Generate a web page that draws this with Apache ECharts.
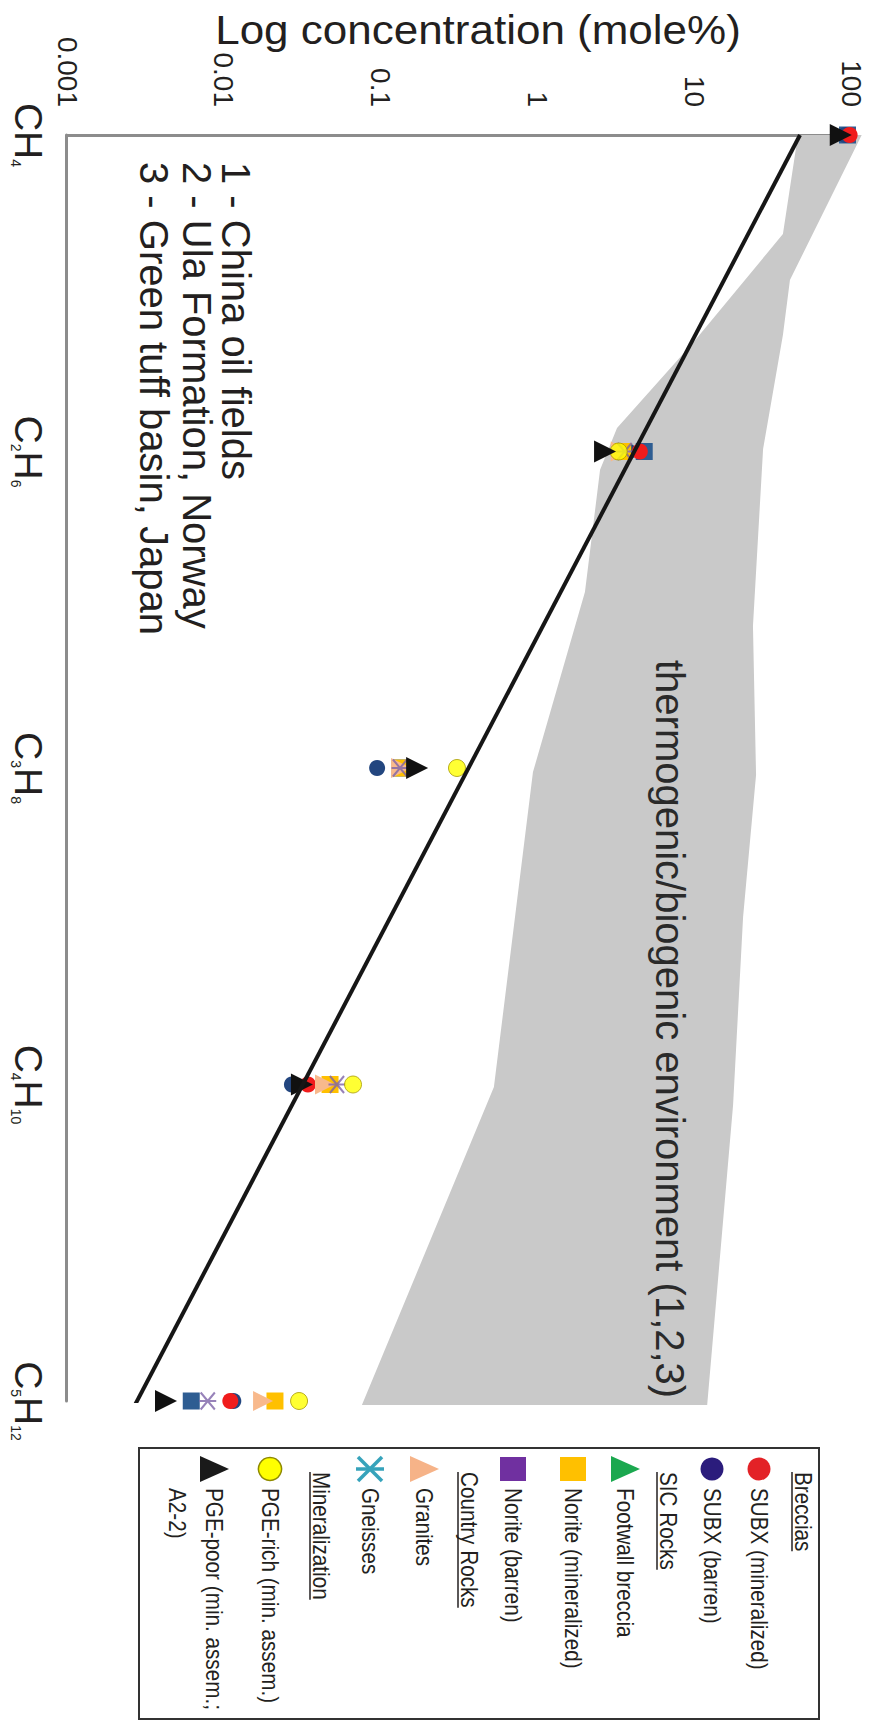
<!DOCTYPE html>
<html><head><meta charset="utf-8">
<script src="https://cdn.jsdelivr.net/npm/echarts@6/dist/echarts.min.js"></script>
<style>
html,body{margin:0;padding:0;width:882px;height:1722px;overflow:hidden;background:#fff;}
#rot{position:absolute;left:0;top:0;width:1722px;height:882px;transform-origin:0 0;transform:translate(882px,0) rotate(90deg);}
#chart{width:1722px;height:882px;}
</style></head><body>
<div id="rot"><div id="chart"></div></div>
<script>
// ---------- data ----------
const categories = ['CH4', 'C2H6', 'C3H8', 'C4H10', 'C5H12'];
const yTickLabels = ['0.001', '0.01', '0.1', '1', '10', '100'];
const yAxisTitle = 'Log concentration (mole%)';
const bandLabel = 'thermogenic/biogenic environment (1,2,3)';
const sourceNotes = ['1 - China oil fields', '2 - Ula Formation, Norway', '3 - Green tuff basin, Japan'];

// [category position, mole%]
const bandLower = [[0, 45.9], [0.313, 36.8], [0.657, 9.8], [0.926, 3.22], [1.058, 2.51], [1.444, 2.01], [2.013, 0.937], [3.008, 0.528], [4.013, 0.076]];
const bandUpper = [[0, 117], [0.458, 40.8], [0.632, 36.8], [0.992, 27.5], [1.551, 23.7], [2.022, 24.8], [2.471, 20.5], [3.065, 17.7], [4.013, 12.1]];
const trendLine = [[0, 47.3], [4.03, 0.0026]];

const noriteBarren = [[0, 95], [1, 4.8], [2, 0.133], [4, 0.0062]];
const subxBarren = [[0, 92], [1, 3.8], [2, 0.095], [3, 0.0272], [4, 0.0115]];
const subxMineralized = [[0, 98], [1, 4.5], [2, 0.14], [3, 0.0344], [4, 0.011]];
const noriteMineralized = [[1, 3.5], [2, 0.137], [3, 0.0476], [4, 0.0212]];
const granites = [[1, 3.4], [2, 0.135], [3, 0.0442], [4, 0.0178]];
const gneisses = [[1, 3.6], [2, 0.133], [3, 0.0527], [4, 0.0079]];
const pgeRich = [[1, 3.3], [2, 0.307], [3, 0.0667], [4, 0.0302]];
const pgePoor = [[0, 86], [1, 2.7], [2, 0.171], [3, 0.0315], [4, 0.00428]];

const legendRows = [
  { kind: 'header', text: 'Breccias' },
  { kind: 'item', text: 'SUBX (mineralized)', symbol: 'circle', color: '#e32227' },
  { kind: 'item', text: 'SUBX (barren)', symbol: 'circle', color: '#2b1c7c' },
  { kind: 'header', text: 'SIC Rocks' },
  { kind: 'item', text: 'Footwall breccia', symbol: 'triangle', color: '#1ba84f' },
  { kind: 'item', text: 'Norite (mineralized)', symbol: 'rect', color: '#ffc000' },
  { kind: 'item', text: 'Norite (barren)', symbol: 'rect', color: '#7030a0' },
  { kind: 'header', text: 'Country Rocks' },
  { kind: 'item', text: 'Granites', symbol: 'triangle', color: '#f6b388' },
  { kind: 'item', text: 'Gneisses', symbol: 'star', color: '#36a3bb' },
  { kind: 'header', text: 'Mineralization' },
  { kind: 'item', text: 'PGE-rich (min. assem.)', symbol: 'circle', color: '#ffff00', stroke: '#8f8a00' },
  { kind: 'item', text: 'PGE-poor (min. assem.;', symbol: 'triangle', color: '#1a1a1a' },
  { kind: 'text', text: 'A2-2)' }
];

// ---------- layout ----------
const FONT = '"Liberation Sans", Arial, Helvetica, sans-serif';
const TXT = '#231f20';
const legendRowY = [79, 123, 170, 214, 257, 309, 369, 413, 458, 512, 561, 612, 668, 705];
const LEG = { x: 1448, y: 63, w: 271, h: 680, symX: 1469, textX: 1488, headX: 1472, font: 23, sx: 0.9 };

const measureCtx = document.createElement('canvas').getContext('2d');
function textWidth(t, size) { measureCtx.font = size + 'px ' + FONT; return measureCtx.measureText(t).width; }

const graphics = [];
// axis title (rotated so it reads along the value axis)
graphics.push({ type: 'text', x: 30, y: 404, rotation: Math.PI / 2, scaleX: 1.1, style: { text: yAxisTitle, fontSize: 40, fontFamily: FONT, fill: TXT, align: 'center', verticalAlign: 'middle', textAlign: 'center', textVerticalAlign: 'middle' }, z: 10 });

graphics.push({ type: 'rect', shape: { x: LEG.x, y: LEG.y, width: LEG.w, height: LEG.h }, style: { fill: 'none', stroke: '#333', lineWidth: 2 }, z: 10 });
function legText(t, x, y) {
  return { type: 'text', x: x, y: y, scaleX: LEG.sx, style: { text: t, fontSize: LEG.font, fontFamily: FONT, fill: TXT, align: 'left', verticalAlign: 'middle', textAlign: 'left', textVerticalAlign: 'middle' }, z: 10 };
}
legendRows.forEach((r, i) => {
  const cy = legendRowY[i];
  if (r.kind === 'header') {
    graphics.push(legText(r.text, LEG.headX, cy));
    const w = textWidth(r.text, LEG.font) * LEG.sx;
    graphics.push({ type: 'line', shape: { x1: LEG.headX, y1: cy + 11, x2: LEG.headX + w, y2: cy + 11 }, style: { stroke: TXT, lineWidth: 1.5 }, z: 10 });
    return;
  }
  graphics.push(legText(r.text, LEG.textX, cy));
  if (r.kind !== 'item') return;
  const sx = LEG.symX;
  if (r.symbol === 'circle') {
    graphics.push({ type: 'circle', shape: { cx: sx, cy: cy, r: 11.5 }, style: { fill: r.color, stroke: r.stroke || null, lineWidth: r.stroke ? 1.5 : 0 }, z: 10 });
  } else if (r.symbol === 'rect') {
    graphics.push({ type: 'rect', shape: { x: sx - 12, y: cy - 13, width: 24, height: 26 }, style: { fill: r.color }, z: 10 });
  } else if (r.symbol === 'triangle') {
    graphics.push({ type: 'polygon', shape: { points: [[sx, cy - 15], [sx - 13, cy + 14], [sx + 13, cy + 14]] }, style: { fill: r.color }, z: 10 });
  } else if (r.symbol === 'star') {
    const s = 12;
    graphics.push({ type: 'polyline', shape: { points: [[sx - s, cy - s], [sx + s, cy + s]] }, style: { stroke: r.color, lineWidth: 3.5 }, z: 10 });
    graphics.push({ type: 'polyline', shape: { points: [[sx + s, cy - s], [sx - s, cy + s]] }, style: { stroke: r.color, lineWidth: 3.5 }, z: 10 });
    graphics.push({ type: 'polyline', shape: { points: [[sx, cy - s - 2], [sx, cy + s + 2]] }, style: { stroke: r.color, lineWidth: 3.5 }, z: 10 });
  }
});
// notes
const notesY = [646, 685, 728];
sourceNotes.forEach((t, i) => {
  graphics.push({ type: 'text', x: 162, y: notesY[i], style: { text: t, fontSize: 40, fontFamily: FONT, fill: TXT, align: 'left', verticalAlign: 'middle', textAlign: 'left', textVerticalAlign: 'middle' }, z: 10 });
});
graphics.push({ type: 'text', x: 660, y: 212, style: { text: bandLabel, fontSize: 40, fontFamily: FONT, fill: '#2a2a2a', align: 'left', verticalAlign: 'middle', textAlign: 'left', textVerticalAlign: 'middle' }, z: 10 });

function catLabel(v) {
  const name = categories[Math.round(v)];
  if (name === undefined) return '';
  let out = '';
  name.replace(/([A-Z])(\d*)/g, (m, el, n) => { out += '{m|' + el + '}' + (n ? '{s|' + n + '}' : ''); return m; });
  return out;
}

const starPath = 'path://M0,0L20,20M20,0L0,20M10,-2L10,22';
function scat(name, data, symbol, size, color, extra) {
  return Object.assign({
    name, type: 'scatter', data, symbol, symbolSize: size, z: 3,
    itemStyle: { color: color, opacity: 1 }
  }, extra || {});
}

const chart = echarts.init(document.getElementById('chart'), null, { renderer: 'svg' });
chart.setOption({
  animation: false,
  backgroundColor: '#fff',
  textStyle: { fontFamily: FONT },
  grid: { left: 135, right: 321, top: 31, bottom: 67, containLabel: false, outerBoundsMode: 'none' },
  xAxis: {
    type: 'value', min: 0, max: 4, interval: 1,
    axisLine: { show: true, onZero: false, lineStyle: { color: '#8c8c8c', width: 3 } },
    axisTick: { show: false }, splitLine: { show: false },
    axisLabel: {
      margin: 19, color: TXT, formatter: catLabel,
      rich: {
        m: { fontSize: 39, lineHeight: 39, fontFamily: FONT, color: TXT },
        s: { fontSize: 14, lineHeight: 1, verticalAlign: 'bottom', fontFamily: FONT, color: TXT }
      }
    }
  },
  yAxis: {
    type: 'log', logBase: 10, min: 0.001, max: 100,
    axisLine: { show: true, lineStyle: { color: '#8c8c8c', width: 3 } },
    axisTick: { show: false }, splitLine: { show: false },
    axisLabel: {
      margin: 28, fontSize: 28, color: TXT, fontFamily: FONT,
      formatter: v => { const i = Math.round(Math.log10(v)) + 3; return yTickLabels[i] !== undefined ? yTickLabels[i] : ''; }
    }
  },
  graphic: graphics,
  series: [
    {
      name: 'band', type: 'custom', z: 1, silent: true, data: [[0, 1]],
      renderItem: (params, api) => {
        const pts = bandLower.map(p => api.coord(p)).concat(bandUpper.slice().reverse().map(p => api.coord(p)));
        return { type: 'polygon', shape: { points: pts }, style: { fill: '#c9c9c9' } };
      }
    },
    scat('Norite (barren)', noriteBarren, 'rect', 17, '#2e5d92'),
    scat('SUBX (barren)', subxBarren, 'circle', 16, '#23467f'),
    scat('SUBX (mineralized)', subxMineralized, 'circle', 16, '#f01c1c'),
    scat('Norite (mineralized)', noriteMineralized, 'rect', 17, '#ffc000'),
    scat('Granites', granites, 'triangle', 20, '#f8b98c'),
    scat('Gneisses', gneisses, starPath, 17, '#7d63a8', { itemStyle: { color: 'rgba(0,0,0,0)', borderColor: '#7d63a8', borderWidth: 2 } }),
    scat('PGE-rich (min. assem.)', pgeRich, 'circle', 17, '#ffff00', { itemStyle: { color: '#ffff00', borderColor: '#a89a00', borderWidth: 1 } }),
    scat('PGE-poor (min. assem.; A2-2)', pgePoor, 'triangle', 22, '#111111'),
    {
      name: 'trend', type: 'line', data: trendLine, symbol: 'none', z: 5, silent: true,
      lineStyle: { color: '#161616', width: 4 }
    }
  ]
});
</script>
</body></html>
